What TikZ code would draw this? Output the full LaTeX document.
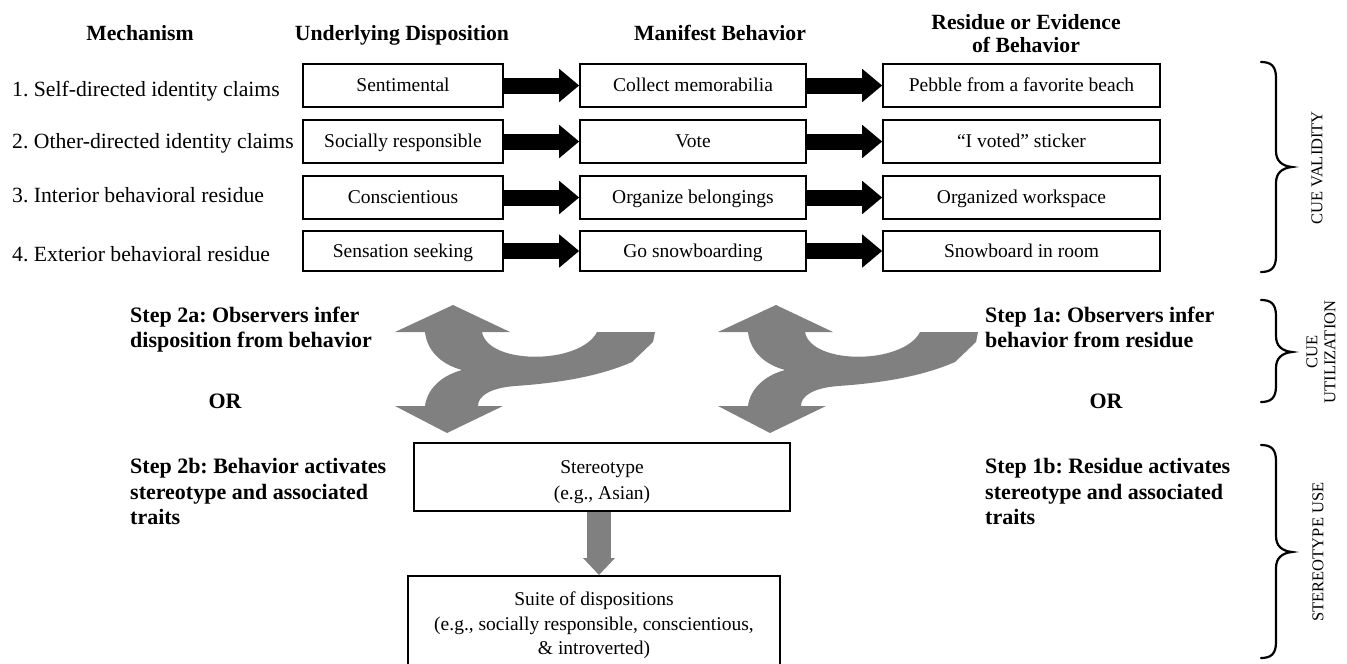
\documentclass[tikz,border=0pt]{standalone}
\usepackage{fontspec}
\setmainfont{Liberation Serif}
\usetikzlibrary{arrows.meta}
\definecolor{arrgray}{RGB}{128,128,128}
\frenchspacing
\newcommand\sidebrace[3]{%
  \draw[bracestyle] (1261,#1) .. controls (1271,#1) and (1276,#1+4) .. (1276,#1+16)
    -- (1276,#3-16) .. controls (1276,#3-6) and (1282,#3-1) .. (1292,#3)
    .. controls (1282,#3+1) and (1276,#3+6) .. (1276,#3+16)
    -- (1276,#2-16) .. controls (1276,#2-4) and (1271,#2) .. (1261,#2);}
\begin{document}
\frenchspacing
\begin{tikzpicture}[x=1pt,y=-1pt,
  hdr/.style={font=\fontsize{21.7}{23}\selectfont\bfseries, inner sep=0, align=center},
  mech/.style={font=\fontsize{21.7}{25}\selectfont, inner sep=0, anchor=west, text height=16pt, text depth=3pt},
  box/.style={draw, line width=1.6pt, font=\fontsize{19.5}{26}\selectfont, align=center, inner sep=0},
  linebox/.style={box, text height=15pt, text depth=3pt},
  steptext/.style={font=\fontsize{22}{25.5}\selectfont\bfseries, inner sep=0, align=left, anchor=north west},
  ortext/.style={font=\fontsize{22}{25.5}\selectfont\bfseries, inner sep=0},
  blackarrow/.style={line width=16pt, -{Triangle[width=32pt,length=20pt]}},
  grayarrow/.style={draw=arrgray, fill=arrgray, line width=24pt, -{Triangle[width=31pt,length=17pt]}},
  bracestyle/.style={line width=2.2pt, line cap=round},
  side/.style={font=\fontsize{16.5}{18}\selectfont, rotate=90, inner sep=0, align=center},
  splitarrow/.pic={
    \fill[arrgray] (453,305) -- (510,332) -- (482,332)
      .. controls (488,365) and (580,365) .. (597,332)
      -- (655,332) -- (653,342) -- (632,362)
      .. controls (600,376) and (560,383) .. (515,386)
      .. controls (490,388) and (478,396) .. (478,406)
      -- (503,406) -- (447,433) -- (395,406) -- (425,406)
      .. controls (427,390) and (440,376) .. (462,370)
      .. controls (440,364) and (427,350) .. (425,332)
      -- (395,332) -- cycle;
  }
]
\useasboundingbox (0,0) rectangle (1347,664);
\clip (0,0) rectangle (1347,664);

% headers
\node[hdr] (hmech) at (140,33) {Mechanism};
\node[hdr] (hdisp) at (402,35) {Underlying Disposition};
\node[hdr] (hbeh) at (720,33) {Manifest Behavior};
\node[hdr] (hres) at (1026,34) {Residue or Evidence\\of Behavior};

% mechanism labels
\node[mech] (m1) at (12,90) {1. Self-directed identity claims};
\node[mech] (m2) at (12,142) {2. Other-directed identity claims};
\node[mech] (m3) at (12,196) {3. Interior behavioral residue};
\node[mech] (m4) at (12,255) {4. Exterior behavioral residue};

% boxes
\node[linebox, minimum width=200, minimum height=43] (d1) at (403,85.5) {Sentimental};
\node[linebox, minimum width=200, minimum height=43] (d2) at (403,141.5) {Socially responsible};
\node[linebox, minimum width=200, minimum height=43] (d3) at (403,197.5) {Conscientious};
\node[linebox, minimum width=200, minimum height=40] (d4) at (403,251) {Sensation seeking};

\node[linebox, minimum width=226, minimum height=43] (b1) at (693,85.5) {Collect memorabilia};
\node[linebox, minimum width=226, minimum height=43] (b2) at (693,141.5) {Vote};
\node[linebox, minimum width=226, minimum height=43] (b3) at (693,197.5) {Organize belongings};
\node[linebox, minimum width=226, minimum height=40] (b4) at (693,251) {Go snowboarding};

\node[linebox, minimum width=277, minimum height=43] (r1) at (1021.5,85.5) {Pebble from a favorite beach};
\node[linebox, minimum width=277, minimum height=43] (r2) at (1021.5,141.5) {“I voted” sticker};
\node[linebox, minimum width=277, minimum height=43] (r3) at (1021.5,197.5) {Organized workspace};
\node[linebox, minimum width=277, minimum height=40] (r4) at (1021.5,251) {Snowboard in room};

% black arrows
\foreach \i in {1,2,3,4}{
  \draw[blackarrow] (d\i.east) -- (b\i.west);
  \draw[blackarrow] (b\i.east) -- (r\i.west);
}

% split gray arrows
\pic at (0,0) {splitarrow};
\pic at (323,0) {splitarrow};

% step texts
\node[steptext] (s2a) at (130,306.5) {Step 2a: Observers infer\\disposition from behavior};
\node[ortext] (or2) at (225,401) {OR};
\node[steptext] (s2b) at (130,458.5) {Step 2b: Behavior activates\\stereotype and associated\\traits};

\node[steptext] (s1a) at (985,306.5) {Step 1a: Observers infer\\behavior from residue};
\node[ortext] (or1) at (1106,401) {OR};
\node[steptext] (s1b) at (985,458.5) {Step 1b: Residue activates\\stereotype and associated\\traits};

% stereotype boxes
\node[box, minimum width=376, minimum height=68] (st) at (602,477) {\rule{0pt}{23pt}Stereotype\\(e.g., Asian)};
\node[box, minimum width=372, minimum height=95, anchor=north, font=\fontsize{19.5}{24.5}\selectfont] (suite) at (594,575) {\rule{0pt}{18pt}Suite of dispositions\\(e.g., socially responsible, conscientious,\\\& introverted)};
\coordinate (ax) at (599,0);
\draw[grayarrow] (st.south -| ax) -- (suite.north -| ax);

% braces
\sidebrace{62}{272}{167}
\sidebrace{300}{402}{352}
\sidebrace{445}{658}{552}
\node[side] (cv) at (1317,168) {CUE VALIDITY};
\node[side] (cu) at (1321,352) {CUE\\UTILIZATION};
\node[side] (su) at (1318,552) {STEREOTYPE USE};
\end{tikzpicture}
\end{document}
